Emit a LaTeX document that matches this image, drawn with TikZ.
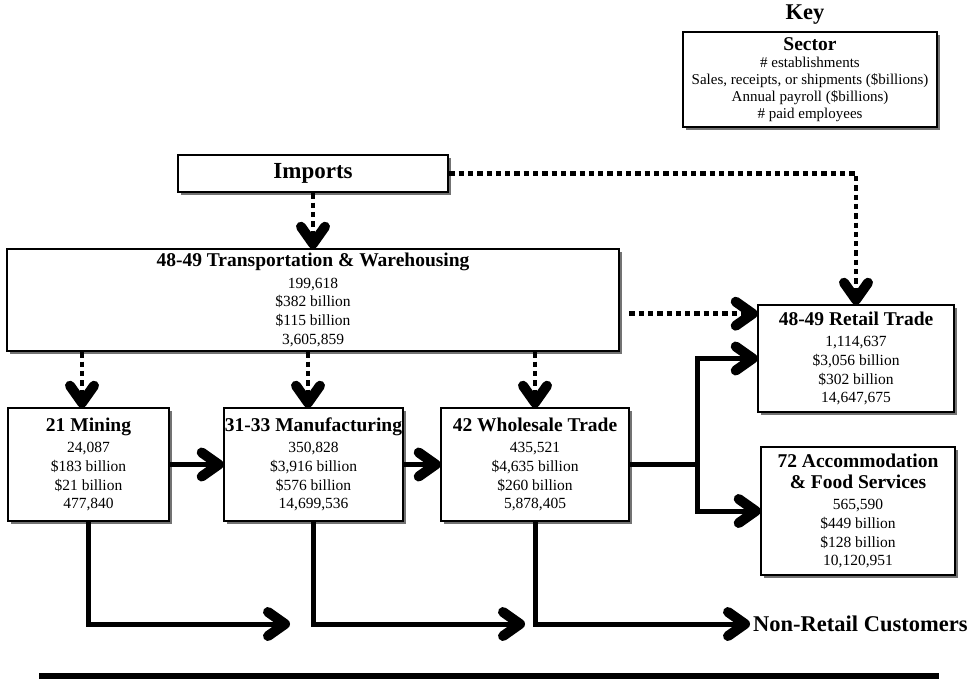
\documentclass[tikz,border=0pt]{standalone}
\usepackage{fontspec}
\setmainfont{Liberation Serif}
\usetikzlibrary{shadows,calc,decorations.markings}

% sector heading inside a box
\newcommand\sectname{\fontsize{19.5}{21}\selectfont\bfseries}

\begin{document}
\begin{tikzpicture}[x=1pt,y=-1pt,
  box/.style={draw, line width=2.6pt, fill=white, inner sep=0pt, align=center,
    drop shadow={shadow xshift=3pt, shadow yshift=-3pt, fill=black!55, opacity=1},
    font=\fontsize{15.5}{18.7}\selectfont},
  % heavy open chevron at the end of a connector
  chevron/.style={postaction={decorate, decoration={markings,
    mark=at position 1 with {\draw[solid, line width=10pt, line cap=round, line join=round]
      (-21pt,12pt) -- (-4pt,0pt) -- (-21pt,-12pt);}}}},
  link/.style={line width=5pt},
  flow/.style={line width=5pt, chevron},
  feed/.style={line width=4.5pt, dash pattern=on 5.3pt off 4pt, chevron}]

\useasboundingbox (0,0) rectangle (976,678);

% key
\node[font=\fontsize{22.5}{22.5}\selectfont\bfseries] (keytitle) at (805,15) {Key};
\node[box, minimum width=254pt, minimum height=95pt,
      font=\fontsize{15}{17}\selectfont] (key) at (810,79.5)
  {{\fontsize{19.5}{19.5}\selectfont\bfseries Sector}\\[0.5pt]
   \# establishments\\
   Sales, receipts, or shipments (\$billions)\\
   Annual payroll (\$billions)\\
   \# paid employees};

% sources
\node[box, minimum width=270pt, minimum height=37pt,
      font=\fontsize{23}{23}\selectfont\bfseries] (imports) at (313,173.5) {Imports};

\node[box, minimum width=612pt, minimum height=102pt] (trans) at (313,300)
  {{\sectname 48-49 Transportation \& Warehousing}\\[2.5pt]
   199,618\\ \$382 billion\\ \$115 billion\\ 3,605,859};

% retail side
\node[box, minimum width=196pt, minimum height=107pt] (retail) at (856,358.5)
  {{\sectname 48-49 Retail Trade}\\[2.5pt]
   1,114,637\\ \$3,056 billion\\ \$302 billion\\ 14,647,675};

\node[box, minimum width=194pt, minimum height=128pt] (accom) at (858,511)
  {{\sectname 72 Accommodation}\\[2.5pt]
   {\sectname \& Food Services}\\[2.5pt]
   565,590\\ \$449 billion\\ \$128 billion\\ 10,120,951};

% production chain
\node[box, minimum width=161pt, minimum height=113pt] (mining) at (88.5,464.5)
  {{\sectname 21 Mining}\\[2.5pt]
   24,087\\ \$183 billion\\ \$21 billion\\ 477,840};

\node[box, minimum width=179pt, minimum height=113pt] (manuf) at (313.5,464.5)
  {{\sectname 31-33 Manufacturing}\\[2.5pt]
   350,828\\ \$3,916 billion\\ \$576 billion\\ 14,699,536};

\node[box, minimum width=188pt, minimum height=113pt] (whole) at (535,464.5)
  {{\sectname 42 Wholesale Trade}\\[2.5pt]
   435,521\\ \$4,635 billion\\ \$260 billion\\ 5,878,405};

\node[anchor=west, inner sep=4pt, font=\fontsize{22.5}{22.5}\selectfont\bfseries]
  (cust) at (749,624) {Non-Retail Customers};

% import and transport feeds (dotted)
\draw[feed] (imports.south) -- (imports.south |- trans.north);
\draw[feed] (imports.east) -| (retail.north);
\draw[feed] ($(trans.east |- retail.north)+(9,10)$) -- ($(retail.north west)+(0,10)$);
\draw[feed] ([xshift=-6.5pt]mining.north |- trans.south) -- ([xshift=-6.5pt]mining.north);
\draw[feed] ([xshift=-5.5pt]manuf.north |- trans.south) -- ([xshift=-5.5pt]manuf.north);
\draw[feed] (whole.north |- trans.south) -- (whole.north);

% goods flow
\draw[flow] (mining) -- (manuf);
\draw[flow] (manuf) -- (whole);
\coordinate (split) at ($(whole.east)+(67,0)$);
\draw[link] (whole.east) -- (split);
\draw[flow] (split) |- (retail.west);
\draw[flow] (split) |- (accom.west);

% sales to non-retail customers
\coordinate (mout) at (289,624);
\coordinate (fout) at (524,624);
\draw[flow] (mining.south) |- (mout);
\draw[flow] (manuf.south) |- (fout);
\draw[flow] (whole.south) |- (cust.west);

% rule at the foot
\fill (39,673) rectangle (939,680);
\end{tikzpicture}
\end{document}
